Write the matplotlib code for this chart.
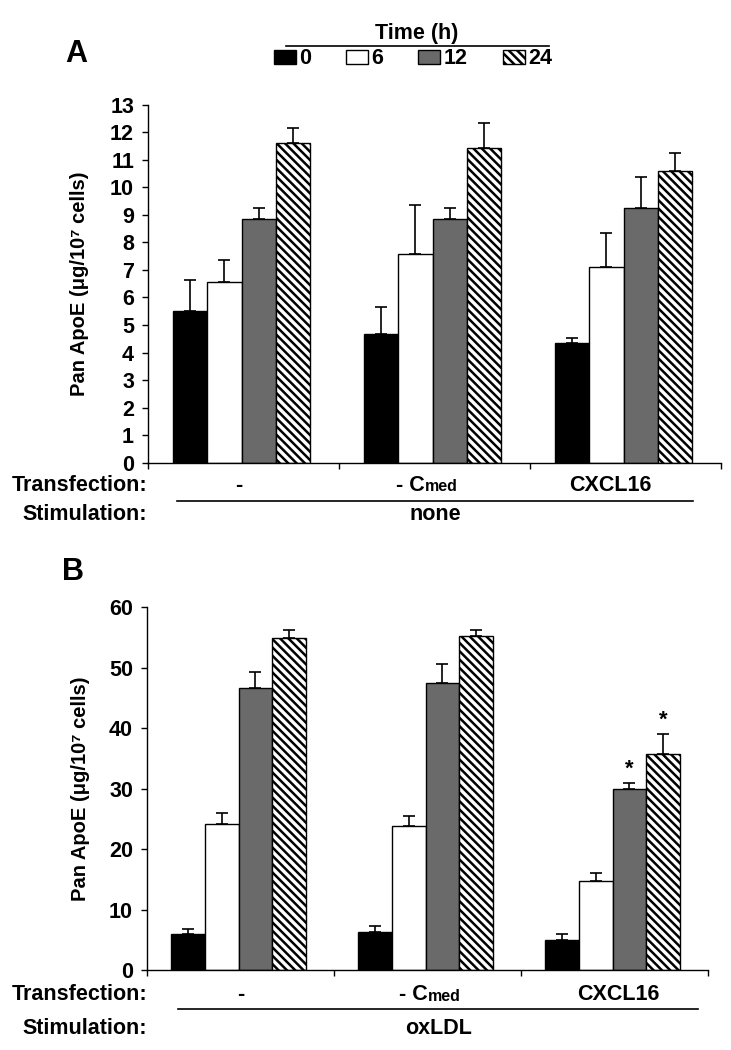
import numpy as np
import matplotlib
matplotlib.use('Agg')
import matplotlib.pyplot as plt
from matplotlib.lines import Line2D
from matplotlib.patches import Patch
import matplotlib.transforms as mtransforms

plt.rcParams['font.family'] = ['Liberation Sans', 'DejaVu Sans']
plt.rcParams['font.weight'] = 'bold'
plt.rcParams['hatch.linewidth'] = 1.8

# data
times = ['0', '6', '12', '24']
transfection = ['-', '- C', 'CXCL16']

# panel A: no stimulation (rows = time, cols = transfection group)
a_mean = [[5.52, 4.66, 4.36],
          [6.56, 7.59, 7.12],
          [8.86, 8.86, 9.24],
          [11.62, 11.44, 10.59]]
a_err = [[1.10, 0.98, 0.18],
         [0.79, 1.77, 1.21],
         [0.39, 0.38, 1.14],
         [0.53, 0.91, 0.67]]

# panel B: oxLDL
b_mean = [[5.96, 6.23, 5.0],
          [24.2, 23.8, 14.7],
          [46.6, 47.5, 29.9],
          [55.0, 55.2, 35.8]]
b_err = [[0.82, 0.99, 0.9],
         [1.8, 1.7, 1.4],
         [2.75, 3.2, 1.1],
         [1.3, 1.1, 3.3]]
# significance marks (time index, group index)
b_stars = [(2, 2), (3, 2)]

colors = ['black', 'white', '#6a6a6a', 'white']
hatches = [None, None, None, '\\\\\\\\']

FS = 15.5
W, H = 731, 1050
fig = plt.figure(figsize=(W/100, H/100), dpi=100)

def fx(px):
    return px / W

def fy(py):
    return 1 - py / H

def panel(rect, mean, err, ymax, ystep, label_x, stim, ys, line_x, stars=()):
    ax = fig.add_axes(rect)
    bw = 0.18
    grp = np.arange(3) + 0.49
    for i in range(4):
        x = grp + (i - 1.5) * bw
        ax.bar(x, mean[i], bw, color=colors[i], edgecolor='black',
               linewidth=1.0, hatch=hatches[i], zorder=2)
        ax.errorbar(x, mean[i], yerr=[np.zeros(3), err[i]], fmt='none',
                    ecolor='black', elinewidth=1.2, capsize=4.5, capthick=1.2,
                    zorder=3)
    for (i, g) in stars:
        x = grp[g] + (i - 1.5) * bw
        ax.annotate('*', (x, mean[i][g] + err[i][g]), xytext=(0, 2),
                    textcoords='offset points', ha='center', va='bottom',
                    fontsize=16)
    ax.set_xlim(0, 3)
    ax.set_ylim(0, ymax)
    ax.set_yticks(np.arange(0, ymax + 0.1, ystep))
    ax.set_xticks([0, 1, 2, 3])
    ax.set_xticklabels([])
    ax.spines['top'].set_visible(False)
    ax.spines['right'].set_visible(False)
    for s in ['left', 'bottom']:
        ax.spines[s].set_linewidth(1.0)
    ax.tick_params(axis='y', direction='out', length=4, width=1.0,
                   labelsize=FS, pad=6)
    ax.tick_params(axis='x', direction='out', length=4, width=1.0)
    ax.set_ylabel('Pan ApoE (\u03bcg/10\u2077 cells)', fontsize=14.5,
                  fontweight='bold', va='center')
    ax.yaxis.set_label_coords(-0.119, 0.5)

    tr = mtransforms.blended_transform_factory(ax.transData, fig.transFigure)
    y_tr, y_line, y_st = ys
    fig.text(fx(147), y_tr, 'Transfection:', ha='right', va='center', fontsize=FS)
    fig.text(fx(147), y_st, 'Stimulation:', ha='right', va='center', fontsize=FS)
    for k, name in enumerate(transfection):
        if k == 1:
            t = ax.text(label_x[k] - 0.03, y_tr, name, transform=tr, ha='right',
                        va='center', fontsize=FS)
            ax.annotate('med', xy=(1, 0.08), xycoords=t, ha='left', va='bottom',
                        fontsize=11.5)
        else:
            ax.text(label_x[k], y_tr, name, transform=tr, ha='center',
                    va='center', fontsize=FS)
    ax.add_line(Line2D(line_x, [y_line, y_line], transform=tr, color='black',
                       linewidth=1.2, clip_on=False))
    ax.text(np.mean(line_x), y_st, stim, transform=tr, ha='center', va='center',
            fontsize=FS)
    return ax

axA = panel([fx(148), fy(462.7), fx(721 - 148), (462.7 - 104.7) / H],
            a_mean, a_err, 13, 1, [0.475, 1.48, 2.42], 'none',
            (fy(485.5), fy(501), fy(515)), [0.152, 2.853])
axB = panel([fx(147), fy(970), fx(708 - 147), (970 - 607.3) / H],
            b_mean, b_err, 60, 10, [0.5, 1.53, 2.52], 'oxLDL',
            (fy(995), fy(1008.5), fy(1028)), [0.166, 2.947], stars=b_stars)

fig.text(fx(76), fy(54), 'A', ha='center', va='center', fontsize=22)
fig.text(fx(73), fy(572), 'B', ha='center', va='center', fontsize=22)

# legend header
fig.text(fx(417), fy(33), 'Time (h)', ha='center', va='center', fontsize=FS)
fig.add_artist(Line2D([fx(286), fx(549)], [fy(45.7), fy(45.7)], color='black',
                      linewidth=1.2, transform=fig.transFigure))
handles = [Patch(facecolor=colors[i], edgecolor='black', hatch=hatches[i],
                 linewidth=1.0) for i in range(4)]
fig.legend(handles, times, loc='center', bbox_to_anchor=(fx(413), fy(59)),
           ncol=4, frameon=False, fontsize=FS, handlelength=1.02,
           handleheight=0.6, handletextpad=0.15, columnspacing=1.63,
           borderpad=0)

fig.savefig('out.png', dpi=100)
